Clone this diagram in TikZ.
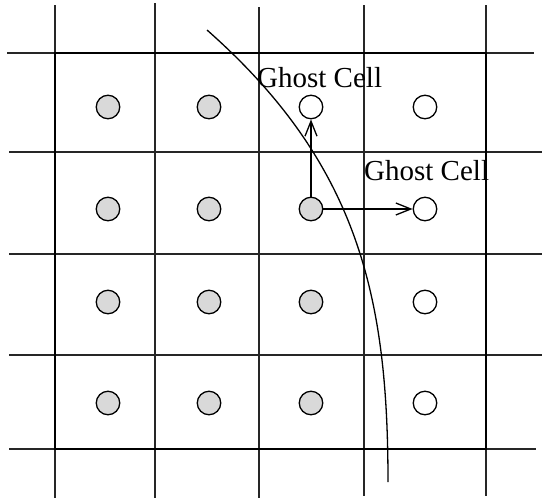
\documentclass[tikz,border=0pt]{standalone}
\usepackage{fontspec}
\setmainfont{Liberation Serif}
\usetikzlibrary{arrows.meta}
\begin{document}
\begin{tikzpicture}[x=1pt,y=-1pt,
  gridline/.style={line width=1.3pt,draw=black!85},
  boxline/.style={line width=2.3pt,draw=black},
  cell/.style={circle,draw=black,line width=1.3pt,minimum size=23.5pt,inner sep=0pt},
  fluid/.style={cell,fill=black!15},
  ghost/.style={cell,fill=white},
  lbl/.style={font=\fontsize{29}{31}\selectfont,inner sep=0pt,anchor=base west},
  arr/.style={line width=1.3pt,-{Straight Barb[length=15pt,width=12pt,line width=1.3pt]}},
  iface/.style={line width=1.3pt}]
\useasboundingbox (0,0) rectangle (542,499);
% vertical grid lines
\draw[gridline] (55,5) -- (55,498);
\draw[gridline] (155,3) -- (155,498);
\draw[gridline] (259,7) -- (259,498);
\draw[gridline] (364,5) -- (364,496);
\draw[gridline] (486,5) -- (486,496);
% horizontal grid lines
\draw[gridline] (7,53) -- (534,53);
\draw[gridline] (9,152) -- (542,152);
\draw[gridline] (9,254) -- (542,254);
\draw[gridline] (9,355) -- (542,355);
\draw[gridline] (9,449) -- (536,449);
% outer box
\draw[boxline] (55,53) rectangle (486,449);
% cell centres
\foreach \r/\y in {1/107,2/209,3/302,4/403}{
  \node[fluid] (c\r1) at (108,\y) {};
  \node[fluid] (c\r2) at (209,\y) {};
  \node[ghost] (c\r4) at (425,\y) {};
}
\node[ghost] (c13) at (311,107) {};
\node[fluid] (c23) at (311,209) {};
\node[fluid] (c33) at (311,302) {};
\node[fluid] (c43) at (311,403) {};
% interface curve
\coordinate (s) at (207,30);
\coordinate (e) at (388,482);
\draw[iface] (s) .. controls (360,165) and (388,300) .. (e);
% arrows
\draw[arr] (c23) -- (c13);
\draw[arr] (c23) -- (c24);
% labels
\node[lbl] (g1) at (257,87) {Ghost Cell};
\node[lbl] (g2) at (364,180) {Ghost Cell};
\end{tikzpicture}
\end{document}
